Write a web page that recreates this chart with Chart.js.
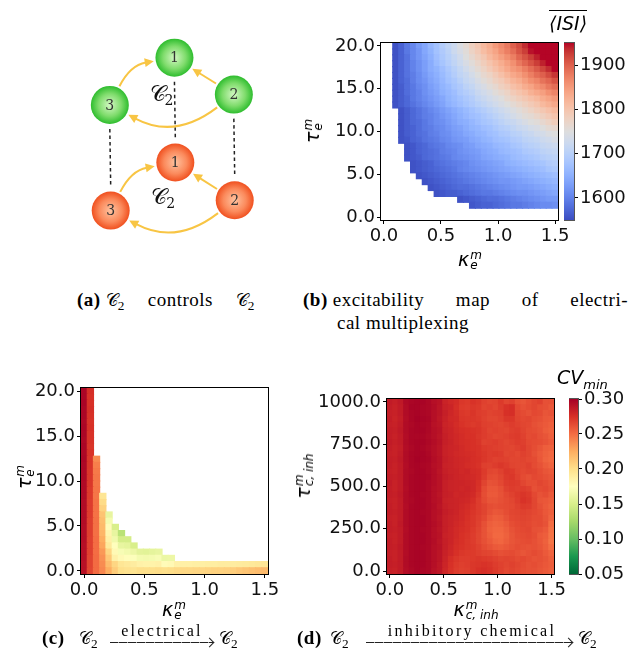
<!DOCTYPE html>
<html>
<head>
<meta charset="utf-8">
<script src="https://cdn.jsdelivr.net/npm/chart.js@4.4.1/dist/chart.umd.min.js"></script>
<style>
  html, body { margin: 0; background: #fff; }
  #fig { position: relative; width: 630px; height: 661px; overflow: hidden; }
  #fig canvas { position: absolute; }
  .t { position: absolute; white-space: nowrap; color: #000; }
  .cap { font-family: 'Liberation Serif', serif; font-size: 19px; line-height: 19px; letter-spacing: 0.5px; }
  .cal { font-family: 'DejaVu Serif', serif; font-size: 17px; letter-spacing: 0; }
  .just { text-align: justify; text-align-last: justify; }
  .lo { font-size: 0.7em; position: relative; top: 0.3em; }
  .gap { display: inline-block; width: 5px; }
  .ml { font-family: 'DejaVu Sans', sans-serif; font-style: italic; font-size: 19px; line-height: 19px; }
  .ss { display: inline-flex; flex-direction: column; font-size: 12px; line-height: 10px; vertical-align: 7px; margin-left: 1px; }
  .rot { transform: translate(-50%, -50%) rotate(-90deg); }
  .mid { transform: translate(-50%, 0); }
  .arrow { position: absolute; height: 1px; background: repeating-linear-gradient(90deg, #222 0 8px, #aaa 8px 9px); }
  .arrow::after { content: ''; position: absolute; right: 0; top: -3px; width: 6px; height: 6px;
                  border-top: 1px solid #222; border-right: 1px solid #222; transform: rotate(45deg); }
  .over { font-size: 16px; letter-spacing: 2.3px; }
</style>
</head>
<body>
<div id="fig">
  <canvas id="cA"></canvas>
  <canvas id="cB"></canvas>
  <canvas id="cBbar"></canvas>
  <canvas id="cC"></canvas>
  <canvas id="cD"></canvas>
  <canvas id="cDbar"></canvas>

  <!-- axis titles -->
  <div class="t ml rot" style="left:313px; top:131px">τ<span class="ss"><span>m</span><span>e</span></span></div>
  <div class="t ml mid" style="left:470px; top:250px">κ<span class="ss"><span>m</span><span>e</span></span></div>
  <div class="t ml" style="left:549px; top:14px"><span style="border-top:1.4px solid #000; padding-top:1px">⟨ISI⟩</span></div>

  <div class="t ml rot" style="left:25px; top:477px">τ<span class="ss"><span>m</span><span>e</span></span></div>
  <div class="t ml mid" style="left:174px; top:600px">κ<span class="ss"><span>m</span><span>e</span></span></div>

  <div class="t ml rot" style="left:304px; top:476px">τ<span class="ss"><span>m</span><span>c, inh</span></span></div>
  <div class="t ml mid" style="left:476px; top:600px">κ<span class="ss"><span>m</span><span>c, inh</span></span></div>
  <div class="t ml" style="left:557px; top:368px">CV<span style="font-size:13px; position:relative; top:5px">min</span></div>

  <!-- captions -->
  <div class="t cap just" style="left:77px; top:290px; width:178px"><b>(a)</b><span class="gap"></span><span class="cal">𝒞</span><span class="lo">2</span> controls <span class="cal">𝒞</span><span class="lo">2</span></div>
  <div class="t cap just" style="left:303px; top:290px; width:325px"><b>(b)</b><span class="gap"></span>excitability map of electri-</div>
  <div class="t cap" style="left:337px; top:313px">cal multiplexing</div>

  <div class="t cap" style="left:42px; top:628px"><b>(c)</b></div>
  <div class="t cap" style="left:79px; top:628px"><span class="cal">𝒞</span><span class="lo">2</span></div>
  <div class="t cap over mid" style="left:162px; top:621px">electrical</div>
  <div class="arrow" style="left:110px; top:642px; width:103px"></div>
  <div class="t cap" style="left:219px; top:628px"><span class="cal">𝒞</span><span class="lo">2</span></div>

  <div class="t cap" style="left:297px; top:628px"><b>(d)</b></div>
  <div class="t cap" style="left:330px; top:628px"><span class="cal">𝒞</span><span class="lo">2</span></div>
  <div class="t cap over mid" style="left:472px; top:621px">inhibitory chemical</div>
  <div class="arrow" style="left:366px; top:642px; width:206px"></div>
  <div class="t cap" style="left:578px; top:628px"><span class="cal">𝒞</span><span class="lo">2</span></div>
</div>

<script>
// ---------- data ----------
const _ = null;  // empty cell

// grid coordinates
const kappaVals = [0.000, 0.052, 0.103, 0.155, 0.207, 0.259, 0.310, 0.362, 0.414, 0.466,
                   0.517, 0.569, 0.621, 0.672, 0.724, 0.776, 0.828, 0.879, 0.931, 0.983,
                   1.034, 1.086, 1.138, 1.190, 1.241, 1.293, 1.345, 1.397, 1.448, 1.500];
const tauElecVals = [0.00, 0.69, 1.38, 2.07, 2.76, 3.45, 4.14, 4.83, 5.52, 6.21,
                     6.90, 7.59, 8.28, 8.97, 9.66, 10.34, 11.03, 11.72, 12.41, 13.10,
                     13.79, 14.48, 15.17, 15.86, 16.55, 17.24, 17.93, 18.62, 19.31, 20.00];
const tauChemVals = [0, 34.5, 69.0, 103.4, 137.9, 172.4, 206.9, 241.4, 275.9, 310.3,
                     344.8, 379.3, 413.8, 448.3, 482.8, 517.2, 551.7, 586.2, 620.7, 655.2,
                     689.7, 724.1, 758.6, 793.1, 827.6, 862.1, 896.6, 931.0, 965.5, 1000];

// tick labels
const kappaTicks = [0, 0.5, 1.0, 1.5];
const tauElecTicks = [0, 5, 10, 15, 20];
const tauChemTicks = [0, 250, 500, 750, 1000];
const isiTicks = [1600, 1700, 1800, 1900];
const cvTicks = [0.05, 0.10, 0.15, 0.20, 0.25, 0.30];

// mean ISI, rows from tau = 20 (top) down to tau = 0
const isiRows = [
  [_,_,1555,1570,1590,1605,1625,1640,1660,1675,1695,1710,1725,1745,1760,1780,1795,1815,1830,1850,1865,1880,1900,1915,1935,1950,1955,1955,1955,1955],
  [_,_,1555,1570,1590,1605,1620,1640,1655,1675,1690,1705,1725,1740,1755,1775,1790,1810,1825,1840,1860,1875,1890,1910,1925,1945,1955,1955,1955,1955],
  [_,_,1555,1570,1585,1605,1620,1635,1650,1670,1685,1700,1715,1730,1750,1765,1780,1795,1815,1830,1845,1860,1875,1895,1910,1925,1940,1955,1955,1955],
  [_,_,1555,1570,1585,1600,1615,1630,1645,1665,1680,1695,1710,1725,1740,1755,1770,1785,1800,1815,1830,1845,1860,1880,1895,1910,1925,1940,1955,1955],
  [_,_,1555,1570,1585,1600,1615,1630,1645,1655,1670,1685,1700,1715,1730,1745,1760,1775,1790,1805,1820,1835,1850,1860,1875,1890,1905,1920,1935,1950],
  [_,_,1555,1570,1585,1595,1610,1625,1640,1650,1665,1680,1695,1710,1720,1735,1750,1765,1775,1790,1805,1820,1835,1845,1860,1875,1890,1900,1915,1930],
  [_,_,1555,1570,1580,1595,1610,1620,1635,1645,1660,1675,1685,1700,1715,1725,1740,1755,1765,1780,1790,1805,1820,1830,1845,1860,1870,1885,1895,1910],
  [_,_,1555,1565,1580,1590,1605,1615,1630,1640,1655,1665,1680,1690,1705,1715,1730,1740,1755,1765,1780,1790,1805,1815,1830,1840,1855,1865,1880,1890],
  [_,_,1555,1565,1580,1590,1600,1615,1625,1635,1650,1660,1670,1685,1695,1705,1720,1730,1740,1755,1765,1775,1790,1800,1810,1825,1835,1845,1860,1870],
  [_,_,1555,1565,1575,1590,1600,1610,1620,1630,1640,1655,1665,1675,1685,1695,1710,1720,1730,1740,1750,1765,1775,1785,1795,1805,1815,1830,1840,1850],
  [_,_,1555,1565,1575,1585,1595,1605,1615,1625,1635,1650,1660,1670,1680,1690,1700,1710,1720,1730,1740,1750,1760,1770,1780,1790,1800,1815,1825,1835],
  [_,_,_,1555,1565,1575,1585,1595,1605,1615,1625,1635,1645,1655,1665,1675,1685,1695,1705,1715,1725,1735,1745,1755,1765,1775,1785,1795,1805,1815],
  [_,_,_,1555,1565,1575,1585,1595,1600,1610,1620,1630,1640,1650,1660,1670,1675,1685,1695,1705,1715,1725,1735,1745,1755,1760,1770,1780,1790,1800],
  [_,_,_,1555,1565,1575,1580,1590,1600,1610,1615,1625,1635,1645,1650,1660,1670,1680,1685,1695,1705,1715,1720,1730,1740,1750,1755,1765,1775,1785],
  [_,_,_,1555,1565,1570,1580,1590,1595,1605,1610,1620,1630,1635,1645,1655,1660,1670,1675,1685,1695,1700,1710,1720,1725,1735,1740,1750,1760,1765],
  [_,_,_,1555,1565,1570,1580,1585,1595,1600,1610,1615,1625,1630,1640,1645,1655,1660,1670,1675,1685,1690,1700,1705,1715,1720,1730,1735,1745,1750],
  [_,_,_,1555,1560,1570,1575,1585,1590,1595,1605,1610,1620,1625,1630,1640,1645,1655,1660,1670,1675,1680,1690,1695,1705,1710,1715,1725,1730,1740],
  [_,_,_,_,1555,1560,1570,1575,1585,1590,1595,1605,1610,1615,1625,1630,1640,1645,1650,1660,1665,1670,1680,1685,1695,1700,1705,1715,1720,1725],
  [_,_,_,_,1555,1560,1570,1575,1580,1585,1595,1600,1605,1615,1620,1625,1630,1640,1645,1650,1660,1665,1670,1675,1685,1690,1695,1705,1710,1715],
  [_,_,_,_,1555,1560,1565,1575,1580,1585,1590,1595,1605,1610,1615,1620,1625,1635,1640,1645,1650,1655,1665,1670,1675,1680,1685,1695,1700,1705],
  [_,_,_,_,_,1555,1560,1565,1570,1580,1585,1590,1595,1600,1605,1615,1620,1625,1630,1635,1640,1650,1655,1660,1665,1670,1675,1680,1690,1695],
  [_,_,_,_,_,1555,1560,1565,1570,1575,1580,1585,1590,1600,1605,1610,1615,1620,1625,1630,1635,1640,1645,1650,1655,1660,1665,1670,1680,1685],
  [_,_,_,_,_,_,1555,1560,1565,1570,1575,1580,1585,1590,1595,1600,1605,1610,1615,1620,1625,1630,1635,1640,1645,1650,1655,1660,1665,1670],
  [_,_,_,_,_,_,_,1555,1560,1565,1570,1575,1580,1585,1590,1595,1600,1605,1610,1615,1620,1620,1625,1630,1635,1640,1645,1650,1655,1660],
  [_,_,_,_,_,_,_,_,1555,1560,1565,1570,1575,1580,1580,1585,1590,1595,1600,1605,1610,1615,1620,1625,1625,1630,1635,1640,1645,1650],
  [_,_,_,_,_,_,_,_,_,1555,1560,1565,1565,1570,1575,1580,1585,1590,1590,1595,1600,1605,1610,1615,1615,1620,1625,1630,1635,1640],
  [_,_,_,_,_,_,_,_,_,_,_,_,_,1555,1560,1565,1570,1575,1580,1580,1585,1590,1595,1600,1605,1610,1615,1620,1625,1625],
  [_,_,_,_,_,_,_,_,_,_,_,_,_,_,_,1560,1565,1570,1570,1575,1580,1585,1590,1590,1595,1600,1605,1610,1610,1615],
  [],
  [],
];

// minimal CV under electrical coupling, rows from tau = 20 down to tau = 0 (missing = empty)
const cvElecRows = [
  [.297,.276],
  [.297,.275],
  [.298,.275],
  [.297,.276],
  [.297,.275],
  [.296,.274],
  [.297,.275],
  [.297,.274],
  [.296,.274],
  [.297,.273],
  [.296,.274],
  [.297,.273,.238],
  [.296,.273,.243],
  [.296,.272,.245],
  [.296,.272,.246],
  [.295,.272,.246],
  [.295,.271,.247],
  [.295,.271,.247,.195],
  [.294,.270,.248,.202],
  [.294,.270,.248,.207],
  [.294,.270,.248,.214,.160],
  [.294,.269,.249,.217,.168],
  [.293,.269,.249,.219,.178,.150],
  [.293,.269,.249,.221,.183,.160,.135],
  [.293,.268,.250,.225,.187,.166,.148,.148],
  [.292,.268,.250,.228,.192,.176,.160,.158,.150],
  [.292,.268,.250,.233,.205,.180,.170,.167,.163,.157,.156,.158,.160],
  [.292,.267,.251,.236,.212,.186,.180,.177,.173,.168,.167,.168,.170,.162,.163],
  [.291,.267,.251,.238,.218,.205,.195,.193,.190,.186,.185,.185,.186,.178,.180,.186,.187,.187,.188,.188,.189,.189,.190,.190,.190,.191,.192,.193,.194,.195],
  [.291,.266,.251,.240,.225,.210,.200,.198,.197,.200,.200,.200,.201,.200,.201,.203,.204,.204,.205,.205,.206,.207,.207,.208,.209,.212,.214,.216,.218,.219],
];

// minimal CV under inhibitory chemical coupling, rows from tau = 1000 down to tau = 0
const cvChemRows = [
  [.286,.284,.287,.295,.297,.298,.298,.296,.292,.290,.282,.279,.277,.272,.271,.274,.272,.268,.266,.267,.271,.266,.268,.262,.260,.263,.266,.268,.262,.262],
  [.285,.283,.286,.294,.298,.298,.297,.296,.293,.289,.283,.281,.276,.271,.270,.272,.271,.267,.268,.266,.270,.274,.276,.265,.262,.264,.266,.263,.262,.259],
  [.284,.283,.286,.294,.297,.298,.297,.296,.292,.289,.284,.280,.277,.272,.271,.273,.270,.269,.267,.268,.269,.275,.276,.266,.264,.262,.265,.264,.260,.261],
  [.285,.282,.285,.293,.297,.299,.298,.297,.292,.288,.283,.279,.278,.273,.272,.272,.271,.268,.266,.266,.268,.272,.272,.267,.265,.266,.263,.262,.259,.258],
  [.284,.283,.286,.294,.296,.298,.297,.296,.291,.289,.282,.280,.277,.274,.272,.271,.272,.269,.268,.267,.266,.268,.270,.268,.266,.265,.262,.260,.258,.256],
  [.285,.284,.287,.294,.297,.298,.298,.296,.292,.290,.283,.281,.278,.276,.275,.274,.273,.270,.267,.268,.267,.266,.269,.270,.267,.264,.263,.261,.257,.255],
  [.285,.283,.286,.293,.297,.297,.297,.295,.292,.289,.284,.281,.279,.277,.275,.275,.272,.270,.268,.266,.267,.268,.270,.271,.268,.264,.265,.262,.260,.256],
  [.286,.284,.286,.294,.297,.298,.298,.296,.293,.290,.284,.282,.279,.277,.276,.275,.273,.268,.269,.270,.268,.266,.268,.270,.269,.265,.264,.263,.261,.258],
  [.285,.283,.285,.293,.296,.298,.297,.295,.292,.289,.283,.281,.280,.278,.276,.275,.274,.271,.270,.269,.268,.267,.266,.268,.270,.266,.263,.260,.256,.255],
  [.284,.283,.286,.294,.297,.298,.298,.296,.292,.289,.283,.281,.279,.278,.277,.276,.274,.272,.270,.271,.270,.266,.267,.265,.268,.266,.262,.258,.255,.253],
  [.285,.284,.287,.294,.297,.299,.298,.297,.293,.290,.284,.282,.280,.279,.278,.276,.275,.272,.270,.268,.269,.268,.266,.266,.267,.265,.264,.259,.254,.252],
  [.285,.283,.286,.293,.297,.298,.297,.296,.292,.290,.283,.282,.280,.279,.277,.276,.274,.269,.268,.270,.272,.270,.267,.266,.266,.268,.264,.261,.257,.254],
  [.284,.283,.286,.294,.296,.298,.298,.296,.293,.289,.284,.282,.281,.279,.280,.277,.276,.271,.266,.265,.268,.272,.271,.267,.265,.267,.266,.263,.260,.258],
  [.285,.284,.286,.294,.297,.298,.298,.297,.293,.290,.285,.283,.281,.280,.279,.278,.276,.270,.264,.263,.266,.271,.272,.268,.264,.262,.265,.264,.262,.260],
  [.286,.283,.286,.294,.297,.298,.298,.296,.293,.290,.284,.282,.281,.281,.280,.279,.275,.267,.261,.262,.265,.270,.271,.270,.266,.263,.263,.266,.264,.261],
  [.285,.283,.286,.293,.297,.298,.298,.296,.292,.290,.284,.282,.281,.280,.281,.279,.274,.264,.259,.259,.262,.268,.270,.269,.270,.268,.262,.264,.265,.262],
  [.285,.284,.287,.294,.297,.298,.297,.296,.292,.289,.284,.283,.280,.281,.280,.278,.272,.263,.258,.258,.261,.265,.268,.271,.273,.271,.265,.261,.263,.259],
  [.284,.283,.286,.294,.296,.298,.298,.296,.292,.290,.283,.282,.281,.280,.279,.276,.270,.264,.260,.260,.262,.264,.266,.270,.274,.272,.266,.260,.259,.257],
  [.285,.283,.286,.293,.297,.298,.298,.296,.293,.289,.284,.282,.281,.279,.277,.274,.270,.267,.263,.262,.263,.264,.265,.268,.271,.270,.266,.262,.258,.255],
  [.285,.284,.286,.294,.297,.298,.297,.296,.292,.290,.285,.283,.281,.278,.276,.273,.270,.267,.262,.259,.260,.263,.266,.267,.268,.267,.265,.263,.259,.256],
  [.284,.283,.286,.294,.297,.298,.298,.296,.292,.289,.284,.282,.280,.278,.275,.272,.269,.265,.259,.256,.257,.261,.265,.266,.267,.266,.264,.264,.260,.254],
  [.285,.283,.287,.294,.297,.298,.298,.296,.293,.290,.284,.282,.279,.277,.274,.272,.268,.262,.256,.254,.255,.258,.263,.265,.266,.265,.263,.264,.261,.251],
  [.285,.284,.286,.293,.297,.298,.297,.296,.292,.289,.284,.281,.278,.276,.274,.271,.267,.261,.255,.253,.253,.256,.261,.264,.265,.266,.262,.261,.258,.249],
  [.284,.283,.286,.294,.297,.298,.298,.296,.292,.290,.283,.281,.278,.275,.273,.270,.266,.261,.256,.252,.252,.255,.260,.263,.264,.265,.263,.258,.256,.248],
  [.285,.283,.286,.294,.297,.298,.298,.296,.293,.289,.284,.281,.277,.275,.272,.270,.266,.262,.258,.254,.253,.256,.260,.262,.263,.264,.262,.259,.255,.247],
  [.285,.284,.287,.294,.297,.298,.297,.296,.292,.290,.284,.280,.276,.274,.272,.271,.268,.264,.261,.258,.257,.259,.261,.263,.262,.261,.262,.260,.256,.250],
  [.284,.283,.286,.293,.297,.298,.298,.296,.292,.289,.283,.279,.275,.272,.271,.271,.269,.267,.266,.264,.262,.263,.264,.262,.260,.262,.264,.262,.258,.254],
  [.285,.283,.286,.294,.297,.298,.298,.296,.292,.289,.282,.276,.272,.270,.270,.271,.272,.271,.270,.268,.266,.267,.266,.264,.265,.263,.261,.262,.260,.256],
  [.285,.284,.286,.294,.297,.298,.298,.296,.292,.288,.281,.275,.271,.269,.270,.272,.273,.274,.273,.270,.268,.266,.268,.266,.264,.262,.263,.261,.259,.257],
  [.284,.283,.286,.293,.296,.298,.297,.296,.291,.288,.280,.274,.270,.268,.269,.272,.275,.276,.274,.271,.268,.265,.267,.265,.263,.262,.262,.260,.258,.256],
];

// motif diagram: two layers of three neurons
const nodeX = [178, 246, 104, 179, 247, 105];
const nodeY = [45, 88, 100, 167, 211, 223];
const nodeName = ['1', '2', '3', '1', '2', '3'];
const nodeLayer = [0, 0, 0, 1, 1, 1];
const synapses = [[2, 0, 20], [1, 0, 0], [1, 2, 40], [5, 3, 20], [4, 3, 0], [4, 5, 40]]; // from, to, bend
const interLayer = [[0, 3], [1, 4], [2, 5]];
const layerTagX = [161, 163];
const layerTagY = [87, 207];

// ---------- colour maps ----------
const COOLWARM = [[59,76,192],[68,90,204],[77,104,215],[87,117,225],[98,130,234],[108,142,241],[119,154,247],
  [130,165,251],[141,176,254],[152,185,255],[163,194,255],[174,201,253],[184,208,249],[194,213,244],[204,217,238],
  [213,219,230],[221,221,221],[229,216,209],[236,211,197],[241,204,185],[245,196,173],[247,187,160],[247,177,148],
  [247,166,135],[244,154,123],[241,141,111],[236,127,99],[229,112,88],[222,96,77],[213,80,66],[203,62,56],[192,40,47],[180,4,38]];
const RDYLGN_R = [[0,104,55],[26,152,80],[102,189,99],[166,217,106],[217,239,139],[255,255,191],
  [254,224,139],[253,174,97],[244,109,67],[215,48,39],[165,0,38]];

function sample(stops, t) {
  t = Math.min(1, Math.max(0, t));
  const p = t * (stops.length - 1);
  const i = Math.min(Math.floor(p), stops.length - 2);
  const f = p - i, a = stops[i], b = stops[i + 1];
  return 'rgb(' + a.map((v, k) => Math.round(v + (b[k] - v) * f)).join(',') + ')';
}

// ---------- shared chart bits ----------
Chart.defaults.font.family = "'DejaVu Sans', sans-serif";
const TICK_FONT = { size: 18 };

const frame = {
  id: 'frame',
  afterDraw(chart, args, opts) {
    const { left, top, right, bottom } = chart.chartArea;
    const c = chart.ctx;
    c.save();
    c.strokeStyle = opts.color || '#000';
    c.lineWidth = 1;
    c.strokeRect(Math.round(left) - 0.5, Math.round(top) - 0.5, Math.round(right - left) + 1, Math.round(bottom - top) + 1);
    c.restore();
  }
};

function axis(position, min, max, ticks, digits, size) {
  return {
    type: 'linear', position, min, max, offset: false,
    afterBuildTicks: s => { s.ticks = ticks.map(v => ({ value: v })); },
    afterFit: s => { if (s.isHorizontal()) s.height = size; else s.width = size; },
    ticks: { callback: v => v.toFixed(digits), color: '#111', font: TICK_FONT, padding: 2, maxRotation: 0, autoSkip: false },
    grid: { display: true, drawOnChartArea: false, drawTicks: true, tickLength: 4, color: '#000', offset: false },
    border: { display: false },
  };
}

function place(id, area, pad) {
  const c = document.getElementById(id);
  c.width = area.w + pad.l + pad.r;
  c.height = area.h + pad.t + pad.b;
  c.style.left = (area.x - pad.l) + 'px';
  c.style.top = (area.y - pad.t) + 'px';
  return c;
}

function heatmap(id, area, pad, xs, ys, rows, vmin, vmax, stops, yTicks, yDigits) {
  const dx = (xs[xs.length - 1] - xs[0]) / (xs.length - 1);
  const dy = (ys[ys.length - 1] - ys[0]) / (ys.length - 1);
  const cells = [], colors = [];
  rows.forEach((row, r) => {
    const yc = ys[ys.length - 1 - r];
    row.forEach((v, i) => {
      if (v == null) return;
      cells.push({ x: xs[i], y: [yc - dy / 2, yc + dy / 2] });
      colors.push(sample(stops, (v - vmin) / (vmax - vmin)));
    });
  });
  return new Chart(place(id, area, pad), {
    type: 'bar',
    data: { datasets: [{ data: cells, backgroundColor: colors, borderWidth: 0,
                         barPercentage: 1, categoryPercentage: 1, inflateAmount: 0.6 }] },
    options: {
      responsive: false, animation: false, events: [],
      layout: { padding: { left: 0, top: pad.t, right: pad.r, bottom: 0 } },
      plugins: { legend: { display: false }, tooltip: { enabled: false } },
      scales: {
        x: axis('bottom', xs[0] - dx / 2, xs[xs.length - 1] + dx / 2, kappaTicks, 1, pad.b),
        y: axis('left', ys[0] - dy / 2, ys[ys.length - 1] + dy / 2, yTicks, yDigits, pad.l),
      },
    },
    plugins: [frame],
  });
}

function colorbar(id, area, pad, vmin, vmax, stops, ticks, digits) {
  return new Chart(place(id, area, pad), {
    type: 'bar',
    data: { labels: [''], datasets: [{
      data: [[vmin, vmax]], borderWidth: 0, barPercentage: 1, categoryPercentage: 1,
      backgroundColor: ctx => {
        const { chartArea, ctx: g } = ctx.chart;
        if (!chartArea) return sample(stops, 0.5);
        const grad = g.createLinearGradient(0, chartArea.bottom, 0, chartArea.top);
        stops.forEach((s, i) => grad.addColorStop(i / (stops.length - 1), sample(stops, i / (stops.length - 1))));
        return grad;
      },
    }] },
    options: {
      responsive: false, animation: false, events: [],
      layout: { padding: { left: 0, top: pad.t, right: 0, bottom: pad.b } },
      plugins: { legend: { display: false }, tooltip: { enabled: false }, frame: { color: '#555' } },
      scales: {
        x: { display: false },
        y: axis('right', vmin, vmax, ticks, digits, pad.r),
      },
    },
    plugins: [frame],
  });
}

// ---------- (a) motif diagram ----------
const LAYER_SHADES = [['#d4f8c4', '#7fdc6c', '#2ebd2e'], ['#ffc3a0', '#fb8a5c', '#f0501f']];
const NODE_R = 19;

function nodeFill(ctx) {
  const i = ctx.dataIndex, ch = ctx.chart;
  const s = LAYER_SHADES[nodeLayer[i] || 0];
  if (ctx.type !== 'data' || !ch.chartArea) return s[1];
  const px = ch.scales.x.getPixelForValue(nodeX[i]);
  const py = ch.scales.y.getPixelForValue(nodeY[i]);
  if (!isFinite(px) || !isFinite(py)) return s[1];
  const g = ch.ctx.createRadialGradient(px, py, 0, px, py, NODE_R);
  g.addColorStop(0, s[0]); g.addColorStop(0.6, s[1]); g.addColorStop(1, s[2]);
  return g;
}

const motif = {
  id: 'motif',
  beforeDatasetsDraw(chart) {
    const c = chart.ctx, sx = chart.scales.x, sy = chart.scales.y;
    const P = i => [sx.getPixelForValue(nodeX[i]), sy.getPixelForValue(nodeY[i])];
    c.save();
    // dashed links between the layers
    c.strokeStyle = '#222'; c.lineWidth = 1.5; c.setLineDash([3.5, 3]);
    interLayer.forEach(([a, b]) => {
      const p = P(a), q = P(b);
      c.beginPath(); c.moveTo(p[0], p[1] + NODE_R + 5); c.lineTo(q[0], q[1] - NODE_R - 5); c.stroke();
    });
    c.setLineDash([]);
    // curved synapses with arrow heads
    c.strokeStyle = c.fillStyle = '#f8c544'; c.lineWidth = 2;
    synapses.forEach(([a, b, bend]) => {
      const p = P(a), q = P(b);
      const dx = q[0] - p[0], dy = q[1] - p[1], L = Math.hypot(dx, dy);
      const k = [(p[0] + q[0]) / 2 + bend * dy / L, (p[1] + q[1]) / 2 - bend * dx / L];
      const toward = (o, t, d) => { const ux = t[0] - o[0], uy = t[1] - o[1], n = Math.hypot(ux, uy); return [o[0] + ux / n * d, o[1] + uy / n * d]; };
      const s = toward(p, k, NODE_R + 2), e = toward(q, k, NODE_R + 2);
      const ux = e[0] - k[0], uy = e[1] - k[1], n = Math.hypot(ux, uy);
      const tx = ux / n, ty = uy / n;
      const base = [e[0] - tx * 9, e[1] - ty * 9];
      c.beginPath(); c.moveTo(s[0], s[1]); c.quadraticCurveTo(k[0], k[1], base[0] + tx, base[1] + ty); c.stroke();
      c.beginPath(); c.moveTo(e[0], e[1]);
      c.lineTo(base[0] - ty * 4.5, base[1] + tx * 4.5); c.lineTo(base[0] + ty * 4.5, base[1] - tx * 4.5);
      c.closePath(); c.fill();
    });
    c.restore();
  },
  afterDatasetsDraw(chart) {
    const c = chart.ctx, sx = chart.scales.x, sy = chart.scales.y;
    c.save();
    c.fillStyle = '#333'; c.textAlign = 'center'; c.textBaseline = 'middle';
    c.font = "14px 'DejaVu Serif', serif";
    nodeName.forEach((t, i) => c.fillText(t, sx.getPixelForValue(nodeX[i]), sy.getPixelForValue(nodeY[i]) + 1));
    c.fillStyle = '#111';
    layerTagX.forEach((x, i) => {
      const px = sx.getPixelForValue(x), py = sy.getPixelForValue(layerTagY[i]);
      c.textAlign = 'left'; c.textBaseline = 'alphabetic';
      c.font = "22px 'DejaVu Serif', serif";
      c.fillText('𝒞', px - 10, py + 7);
      const w = c.measureText('𝒞').width;
      c.font = "14px 'DejaVu Serif', serif";
      c.fillText('2', px - 11 + w, py + 11);
    });
    c.restore();
  }
};

new Chart(place('cA', { x: 0, y: 0, w: 300, h: 270 }, { l: 0, t: 0, r: 0, b: 0 }), {
  type: 'scatter',
  data: { datasets: [{ data: nodeX.map((x, i) => ({ x, y: nodeY[i] })), pointRadius: NODE_R, pointHoverRadius: NODE_R,
                       borderWidth: 0, backgroundColor: nodeFill }] },
  options: {
    responsive: false, animation: false, events: [],
    layout: { padding: 0 },
    plugins: { legend: { display: false }, tooltip: { enabled: false } },
    scales: { x: { display: false, min: 0, max: 300 }, y: { display: false, min: 0, max: 270, reverse: true } },
  },
  plugins: [motif],
});

// ---------- (b) (c) (d) maps ----------
heatmap('cB', { x: 381, y: 43, w: 177, h: 177 }, { l: 80, t: 14, r: 16, b: 34 },
        kappaVals, tauElecVals, isiRows, 1550, 1950, COOLWARM, tauElecTicks, 1);
colorbar('cBbar', { x: 564, y: 43, w: 10, h: 177 }, { l: 0, t: 14, r: 56, b: 14 },
         1550, 1950, COOLWARM, isiTicks, 0);

heatmap('cC', { x: 81, y: 388, w: 187, h: 186 }, { l: 80, t: 14, r: 16, b: 34 },
        kappaVals, tauElecVals, cvElecRows, 0.05, 0.30, RDYLGN_R, tauElecTicks, 1);

heatmap('cD', { x: 387, y: 399, w: 177, h: 175 }, { l: 84, t: 14, r: 4, b: 34 },
        kappaVals, tauChemVals, cvChemRows, 0.05, 0.30, RDYLGN_R, tauChemTicks, 1);
colorbar('cDbar', { x: 569, y: 399, w: 9, h: 175 }, { l: 0, t: 14, r: 50, b: 14 },
         0.05, 0.30, RDYLGN_R, cvTicks, 2);
</script>
</body>
</html>
